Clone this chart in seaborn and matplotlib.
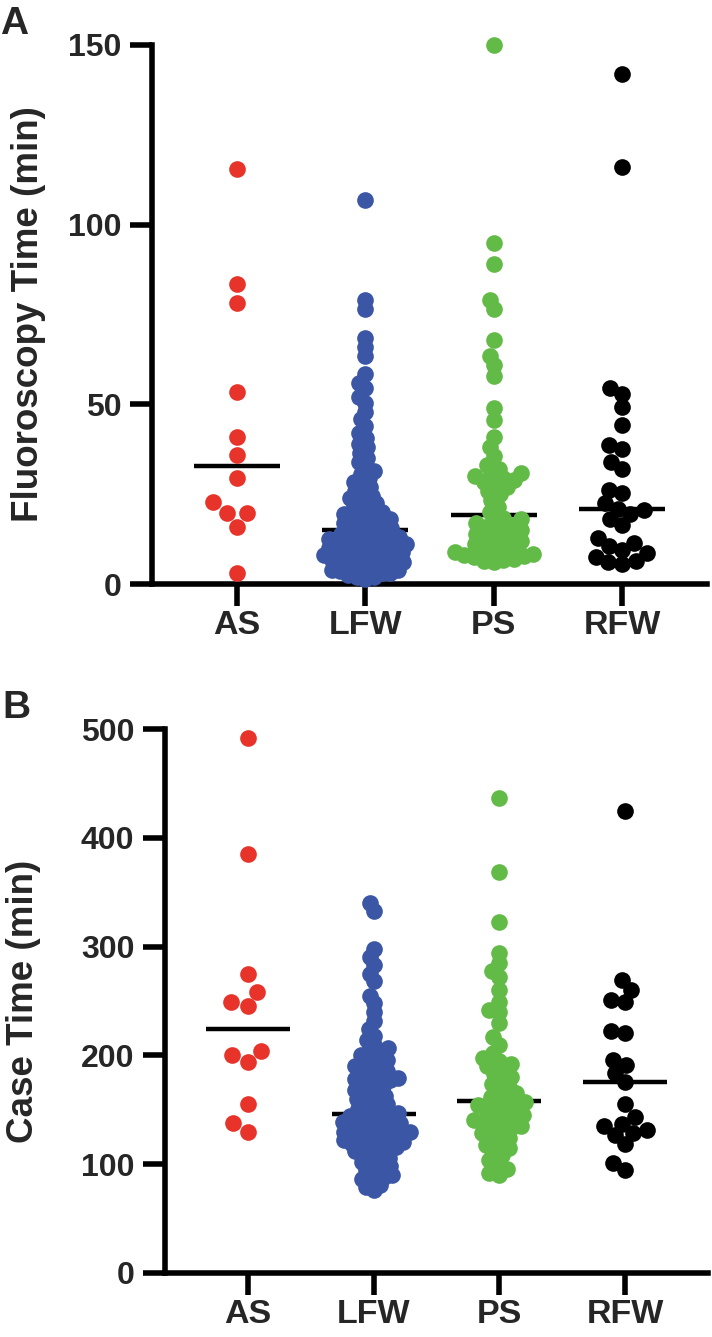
import numpy as np
import pandas as pd
import matplotlib
matplotlib.use("Agg")
import matplotlib.pyplot as plt
import seaborn as sns

# ---------------- data ----------------
groups = ["AS", "LFW", "PS", "RFW"]
colors = ["#E8332A", "#3A56A5", "#63BB47", "#000000"]

fluoro_AS = [115.4, 83.5, 78.3, 53.5, 41, 36, 29.4, 22.8, 19.8, 19.8, 16, 3]
fluoro_LFW = [107, 79, 76.5, 68.5, 66, 63.5,
              58.5, 56, 54.5, 52, 50.5, 48, 46, 44,
              42, 40.5, 39, 38, 36.5, 35, 34, 32.5, 31.5, 30.5,
              29.5, 28.5, 28, 27, 26, 25.5, 24.5, 24, 23, 22.5, 22, 21, 20.5, 20,
              19.5, 19, 19, 18.5, 18, 17.5, 17, 17, 16.5, 16, 15.5, 15.2,
              14.8, 14.5, 14, 14, 13.5, 13, 13, 12.5, 12, 12,
              11.5, 11, 11, 10.5, 10, 10, 9.5, 9, 9, 8.5,
              8, 8, 7.5, 7, 7, 6.5, 6, 6, 5.5, 5,
              5, 4.5, 4, 4, 3.5, 3, 3, 2.5, 2, 2,
              1.5, 11.8, 9.8, 7.8, 5.8, 3.8, 12.8, 10.8, 8.8, 6.8]
fluoro_PS = [150, 95, 89, 79, 76.5, 68, 63.5, 61, 58, 49, 45.7, 41, 38, 35.5,
             33, 32, 31, 30.5, 30, 29.5, 29, 28.5, 28, 27, 26, 25, 23.5, 21.5, 20,
             18.5, 18, 17.5, 17, 16.5, 16, 15.5, 15, 14.5, 14, 13.5, 13, 12.5, 12,
             11.5, 11, 10.5, 10, 9.5, 9, 8.7, 8.4, 8, 7.7, 7.4, 7, 6.8, 6.5, 6]
fluoro_RFW = [142, 116, 54.5, 53, 49.3, 44.3, 38.7, 37.5, 34, 32,
              26.2, 25.3, 22.5, 21, 20.5, 19.5, 18, 16.5,
              12.8, 11.5, 10.5, 9.5, 8.5, 7.5, 6.5, 6, 5.5]

case_AS = [492, 385, 275, 258, 249, 245, 204, 200, 194, 155, 138, 130]
case_LFW = [340, 333, 298, 290, 283, 275, 268, 255, 248, 240, 232, 224, 218,
            214, 210, 207, 204, 202, 200, 198, 196, 194, 192, 190, 188, 186, 185,
            183, 181, 179, 178, 177, 176, 174, 172, 170, 168, 166, 165, 163, 161,
            160, 158, 156, 155, 153, 151, 150, 148, 147,
            145, 144, 144, 142, 141, 140, 139, 138, 137, 136, 135, 134, 133, 132,
            130, 130, 129, 128, 127, 126, 124, 124, 123, 122, 121, 120, 119, 118,
            116, 116, 115, 113, 112, 110, 108, 106, 105, 102, 100, 98, 96, 95, 92,
            90, 88, 86, 84, 81, 79, 76]
case_PS = [437, 369, 323, 294, 285, 278, 272, 260, 249, 242, 240, 230, 217, 210,
           202, 198, 195, 192, 190, 186, 183, 180, 177, 174, 171, 168, 165, 162, 160,
           157, 156, 154, 152, 150, 149, 147, 145, 143, 141, 140, 138, 137, 135,
           133, 131, 129, 127, 124, 121, 118, 115, 112, 108, 104, 100, 96, 92, 90]
case_RFW = [425, 269, 260, 251, 249, 222, 221, 196, 191, 184, 176, 155,
            143, 137, 135, 131, 129, 127, 119, 101, 95]

fluoro_ticks = [0, 50, 100, 150]
case_ticks = [0, 100, 200, 300, 400, 500]

# ---------------- style ----------------
sns.set_theme(style="ticks")
plt.rcParams["font.family"] = ["Liberation Sans", "DejaVu Sans"]
plt.rcParams["font.weight"] = "bold"

def make_df(vals):
    g, v = [], []
    for name, arr in zip(groups, vals):
        g += [name] * len(arr)
        v += list(arr)
    df = pd.DataFrame({"group": g, "value": v})
    df["group"] = pd.Categorical(df["group"], categories=groups)
    return df

df_a = make_df([fluoro_AS, fluoro_LFW, fluoro_PS, fluoro_RFW])
df_b = make_df([case_AS, case_LFW, case_PS, case_RFW])

W, H = 712, 1337
fig = plt.figure(figsize=(W / 100, H / 100), dpi=100)
ax_a = fig.add_axes([152 / W, 1 - 584 / H, (707 - 152) / W, (584 - 45) / H])
ax_b = fig.add_axes([165 / W, 1 - 1273 / H, (708 - 165) / W, (1273 - 729) / H])

pack = {"AS": 12, "LFW": 6, "PS": 7, "RFW": 9.5}
final_size = 12
swarm_colls = []

def panel(ax, df, ymax, ticks, ylabel, lab_x):
    sns.boxplot(data=df, x="group", y="value", order=groups, ax=ax,
                width=0.67, showbox=False, showcaps=False, showfliers=False,
                whiskerprops={"visible": False},
                medianprops={"color": "black", "linewidth": 3.2, "solid_capstyle": "butt"},
                color="black", zorder=2)
    for g, c in zip(groups, colors):
        sub = df[df["group"] == g]
        n0 = len(ax.collections)
        sns.swarmplot(data=sub, x="group", y="value", order=groups, ax=ax,
                      color=c, size=pack[g], linewidth=0, zorder=3,
                      clip_on=False, warn_thresh=1)
        swarm_colls.extend(ax.collections[n0:])
    ax.set_xlim(-0.66, 3.66)
    ax.set_ylim(0, ymax)
    ax.set_yticks(ticks)
    ax.set_yticklabels([str(t) for t in ticks], fontsize=23, fontweight="bold")
    ax.set_xticks(range(len(groups)))
    ax.set_xticklabels(groups, fontsize=24.5, fontweight="bold")
    ax.set_xlabel("")
    ax.set_ylabel(ylabel, fontsize=26.5, fontweight="bold")
    ax.yaxis.set_label_coords(lab_x, 0.5)
    for s in ["top", "right"]:
        ax.spines[s].set_visible(False)
    for s in ["left", "bottom"]:
        ax.spines[s].set_linewidth(4)
        ax.spines[s].set_color("black")
    ax.tick_params(axis="both", width=4, length=16, color="black", direction="out")
    ax.tick_params(axis="y", pad=6)
    ax.tick_params(axis="x", pad=3)
    ax.set_facecolor("white")

panel(ax_a, df_a, 150, fluoro_ticks, "Fluoroscopy Time (min)", (46 - 152) / (707 - 152))
panel(ax_b, df_b, 500, case_ticks, "Case Time (min)", (41 - 165) / (708 - 165))

fig.text(0 / W, 1 - 34 / H, "A", fontsize=28, fontweight="bold", ha="left", va="baseline")
fig.text(2 / W, 1 - 718 / H, "B", fontsize=28, fontweight="bold", ha="left", va="baseline")

# compute swarm positions with packing size, then freeze and draw full-size dots
fig.canvas.draw()
for coll in swarm_colls:
    if "draw" in coll.__dict__:
        del coll.draw
    coll.set_sizes([final_size ** 2])

fig.savefig("out.png", dpi=100, facecolor="white")
